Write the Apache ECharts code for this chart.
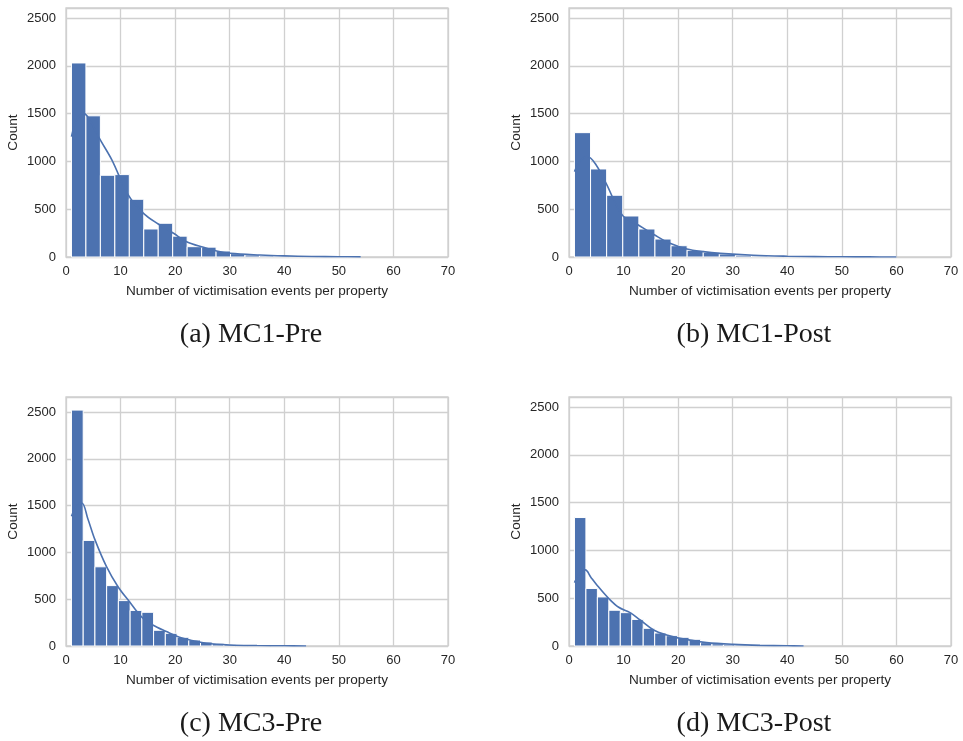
<!DOCTYPE html>
<html>
<head>
<meta charset="utf-8">
<script src="https://cdn.jsdelivr.net/npm/echarts@6/dist/echarts.min.js"></script>
<style>
  html, body { margin: 0; padding: 0; background: #ffffff; }
  #chart { width: 963px; height: 741px; }
</style>
</head>
<body>
<div id="chart"></div>
<script>
// Histogram counts per panel: 20 equal bins spanning [min, max] of each sample
const mc1PreRange = [1, 54];
const mc1PreCounts = [2030, 1477, 855, 862, 604, 293, 353, 218, 108, 103, 63, 35, 22, 12, 7, 4, 3, 1, 1, 1];
const mc1PostRange = [1, 60];
const mc1PostCounts = [1301, 921, 646, 429, 293, 188, 118, 70, 49, 31, 18, 10, 6, 4, 2, 2, 1, 1, 0, 1];
const mc3PreRange = [1, 44];
const mc3PreCounts = [2520, 1128, 846, 645, 485, 380, 360, 168, 136, 93, 64, 43, 29, 18, 11, 7, 4, 2, 1, 1];
const mc3PostRange = [1, 43];
const mc3PostCounts = [1344, 602, 513, 374, 349, 278, 185, 136, 108, 91, 70, 35, 24, 15, 10, 6, 4, 2, 1, 1];

// Density curves (scaled to counts), sampled as [events, count]
const mc1PreKde = [[1, 1260], [2, 1440], [3.2, 1505], [4.5, 1420], [6.1, 1243], [8.4, 1016], [11.4, 649], [14.2, 457], [16.9, 345], [19.7, 248], [22.1, 160], [25.2, 101], [27.6, 63], [30.1, 39], [35.6, 21], [40, 12], [45, 6], [50, 3], [54, 1]];
const mc1PostKde = [[1, 893], [2, 1000], [3.4, 1051], [5, 960], [6.8, 771], [9.75, 440], [12.7, 335], [15.7, 230], [18.5, 143], [21.6, 84], [24.6, 56], [27.7, 38], [33.8, 18], [40, 8], [45, 4], [50, 2], [55, 1], [60, 0]];
const mc3PreKde = [[1, 1386], [2, 1500], [2.9, 1528], [4, 1360], [5.3, 1136], [7.4, 850], [9.5, 636], [11.6, 475], [13.8, 314], [15.9, 225], [18.4, 154], [20.8, 93], [23.3, 57], [25.7, 29], [30, 11], [35, 5], [40, 2], [44, 0]];
const mc3PostKde = [[1, 663], [2, 760], [3, 796], [4, 720], [5.1, 639], [7.25, 499], [9.1, 405], [11.2, 349], [13.05, 272], [15.5, 168], [17.9, 115], [20.35, 80], [22.8, 56], [25.2, 35], [30.1, 17], [35, 7], [40, 2], [43, 0]];

// Axis ticks and panel captions
const xTicks = { min: 0, max: 70, interval: 10 };
const yInterval = 500;
const panelYMax = [2605, 2605, 2660, 2605];
const captions = ['(a) MC1-Pre', '(b) MC1-Post', '(c) MC3-Pre', '(d) MC3-Post'];
const xAxisTitle = 'Number of victimisation events per property';
const yAxisTitle = 'Count';

const panels = [
  { range: mc1PreRange, counts: mc1PreCounts, kde: mc1PreKde },
  { range: mc1PostRange, counts: mc1PostCounts, kde: mc1PostKde },
  { range: mc3PreRange, counts: mc3PreCounts, kde: mc3PreKde },
  { range: mc3PostRange, counts: mc3PostCounts, kde: mc3PostKde }
];

const BAR = '#4c72b0';
const GRIDC = '#d0d0d0';
const TEXT = '#262626';
const SANS = 'Liberation Sans, Arial, sans-serif';

const layout = [
  { left: 66, top: 8, cx: 251, cy: 335 },
  { left: 569, top: 8, cx: 754, cy: 335 },
  { left: 66, top: 397, cx: 251, cy: 724 },
  { left: 569, top: 397, cx: 754, cy: 724 }
];
const W = 382, H = 249;

const grid = [], xAxis = [], yAxis = [], series = [], graphic = [];

panels.forEach((p, i) => {
  const L = layout[i];
  grid.push({ left: L.left, top: L.top, width: W, height: H, show: true,
    borderColor: GRIDC, borderWidth: 1.3, backgroundColor: '#ffffff' });

  xAxis.push({
    gridIndex: i, type: 'value', min: xTicks.min, max: xTicks.max, interval: xTicks.interval,
    name: xAxisTitle, nameLocation: 'middle', nameGap: 27,
    nameTextStyle: { fontFamily: SANS, fontSize: 13.6, color: TEXT },
    axisLine: { show: false }, axisTick: { show: false },
    axisLabel: { fontFamily: SANS, fontSize: 13, color: TEXT, margin: 8,
      formatter: v => String(v) },
    splitLine: { show: true, lineStyle: { color: GRIDC, width: 1.3 } }
  });

  yAxis.push({
    gridIndex: i, type: 'value', min: 0, max: panelYMax[i], interval: yInterval,
    name: yAxisTitle, nameLocation: 'middle', nameGap: 46,
    nameTextStyle: { fontFamily: SANS, fontSize: 13.6, color: TEXT },
    axisLine: { show: false }, axisTick: { show: false },
    axisLabel: { fontFamily: SANS, fontSize: 13, color: TEXT, margin: 10, showMaxLabel: false,
      formatter: v => String(v) },
    splitLine: { show: true, lineStyle: { color: GRIDC, width: 1.3 } }
  });

  // Histogram bars: [binStart, binEnd, count]
  const n = p.counts.length;
  const w = (p.range[1] - p.range[0]) / n;
  const bins = p.counts.map((c, k) => [p.range[0] + k * w, p.range[0] + (k + 1) * w, c]);

  series.push({
    type: 'custom', xAxisIndex: i, yAxisIndex: i, z: 2,
    data: bins,
    encode: { x: [0, 1], y: 2 },
    renderItem: (params, api) => {
      const a = api.coord([api.value(0), 0]);
      const b = api.coord([api.value(1), api.value(2)]);
      return {
        type: 'rect',
        shape: { x: a[0], y: b[1], width: b[0] - a[0], height: a[1] - b[1] },
        style: { fill: BAR, stroke: '#ffffff', lineWidth: 1 }
      };
    }
  });

  // Density curve
  series.push({
    type: 'line', xAxisIndex: i, yAxisIndex: i, z: 3,
    data: p.kde, smooth: 0.35, showSymbol: false, symbol: 'none',
    lineStyle: { color: BAR, width: 1.6 }
  });

  graphic.push({
    type: 'text', x: L.cx, y: L.cy,
    style: { text: captions[i], font: '28px "Liberation Serif", "DejaVu Serif", serif',
      fill: '#1a1a1a', textAlign: 'center', textVerticalAlign: 'middle' }
  });
});

const chart = echarts.init(document.getElementById('chart'), null, { renderer: 'canvas' });
chart.setOption({
  animation: false,
  backgroundColor: '#ffffff',
  grid, xAxis, yAxis, series, graphic
});
</script>
</body>
</html>
